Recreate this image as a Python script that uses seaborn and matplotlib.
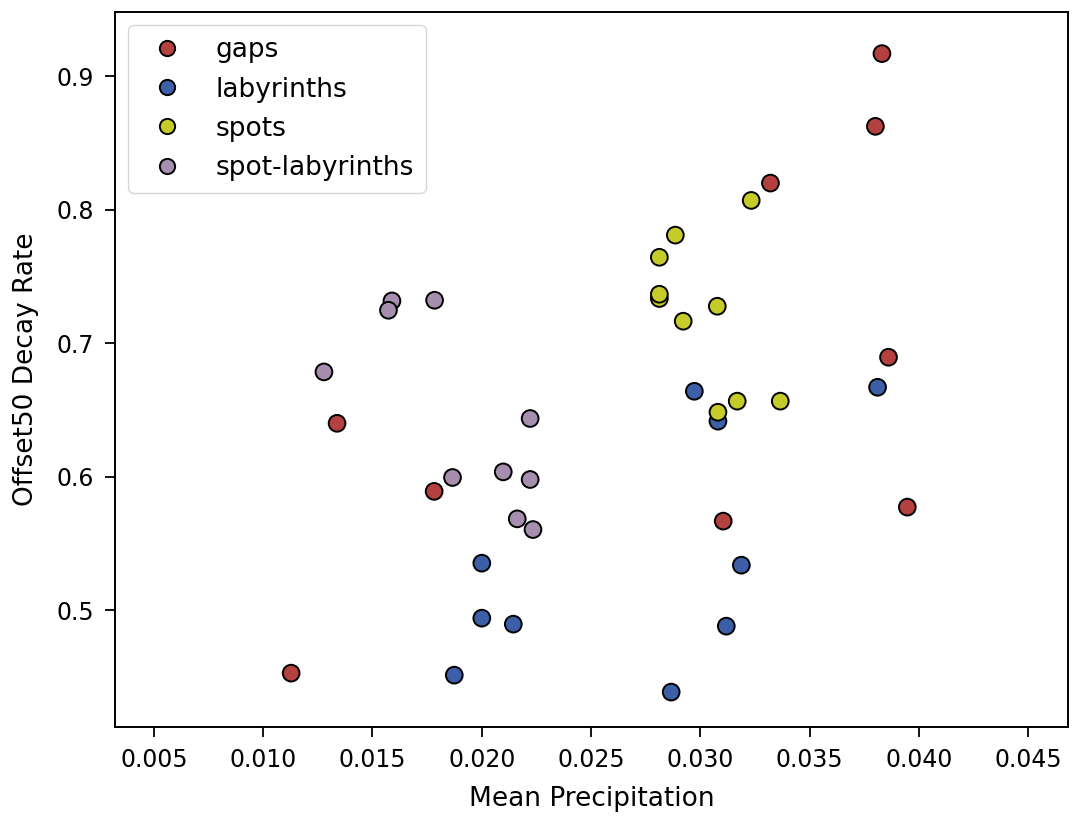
import numpy as np
import pandas as pd
import matplotlib
matplotlib.use("Agg")
import matplotlib.pyplot as plt
import seaborn as sns

# Mean precipitation and Offset50 decay rate for each vegetation pattern class
gaps_precip = [0.0383, 0.0380, 0.0332, 0.0386, 0.01338, 0.01782, 0.03104, 0.03946, 0.01128]
gaps_decay = [0.917, 0.8625, 0.820, 0.6895, 0.640, 0.589, 0.5667, 0.5772, 0.4528]

labyrinths_precip = [0.02972, 0.0308, 0.0381, 0.0200, 0.03187, 0.0200, 0.02144, 0.03118, 0.01874, 0.02866]
labyrinths_decay = [0.664, 0.6416, 0.667, 0.5352, 0.5337, 0.494, 0.4895, 0.488, 0.4513, 0.4386]

spots_precip = [0.03232, 0.02885, 0.02812, 0.02812, 0.02812, 0.03077, 0.02921, 0.03168, 0.03365, 0.0308]
spots_decay = [0.807, 0.781, 0.7644, 0.7335, 0.7367, 0.7277, 0.7165, 0.6566, 0.6566, 0.6483]

spotlab_precip = [0.01589, 0.01573, 0.01784, 0.01278, 0.02221, 0.01866, 0.02098, 0.02221, 0.02162, 0.02234]
spotlab_decay = [0.7317, 0.7247, 0.7322, 0.6785, 0.6436, 0.5994, 0.6036, 0.5979, 0.5684, 0.5604]

pattern_names = ["gaps", "labyrinths", "spots", "spot-labyrinths"]
pattern_colors = ["#b4403f", "#3c5fa8", "#c5cc29", "#a68fae"]

frames = []
for name, xs, ys in zip(
    pattern_names,
    [gaps_precip, labyrinths_precip, spots_precip, spotlab_precip],
    [gaps_decay, labyrinths_decay, spots_decay, spotlab_decay],
):
    frames.append(pd.DataFrame({"precip": xs, "decay": ys, "pattern": name}))
df = pd.concat(frames, ignore_index=True)

plt.rcParams["font.family"] = ["DejaVu Sans"]
plt.rcParams["font.size"] = 17

fig = plt.figure(figsize=(10.76, 8.16), dpi=100)
ax = fig.add_axes([0.107, 0.109, 0.886, 0.876])

sns.scatterplot(
    data=df, x="precip", y="decay", hue="pattern",
    hue_order=pattern_names, palette=dict(zip(pattern_names, pattern_colors)),
    s=145, edgecolor="black", linewidth=1.4, ax=ax,
)

ax.set_xlim(0.00323, 0.04683)
ax.set_ylim(0.4124, 0.948)
ax.set_xticks(np.arange(0.005, 0.0451, 0.005))
ax.set_yticks([0.5, 0.6, 0.7, 0.8, 0.9])
ax.tick_params(labelsize=17, length=7, width=1.3, pad=8)
for sp in ax.spines.values():
    sp.set_linewidth(1.4)
ax.set_xlabel("Mean Precipitation", fontsize=19, labelpad=10)
ax.set_ylabel("Offset50 Decay Rate", fontsize=19, labelpad=13)

leg = ax.legend(loc="upper left", fontsize=19, title=None, borderpad=0.45,
                handletextpad=0.85, labelspacing=0.5, borderaxespad=0.5)
for h in leg.legend_handles:
    h.set_markeredgecolor("black")
    h.set_markeredgewidth(1.4)
    h.set_markersize(11)

fig.savefig("out.png", dpi=100)
